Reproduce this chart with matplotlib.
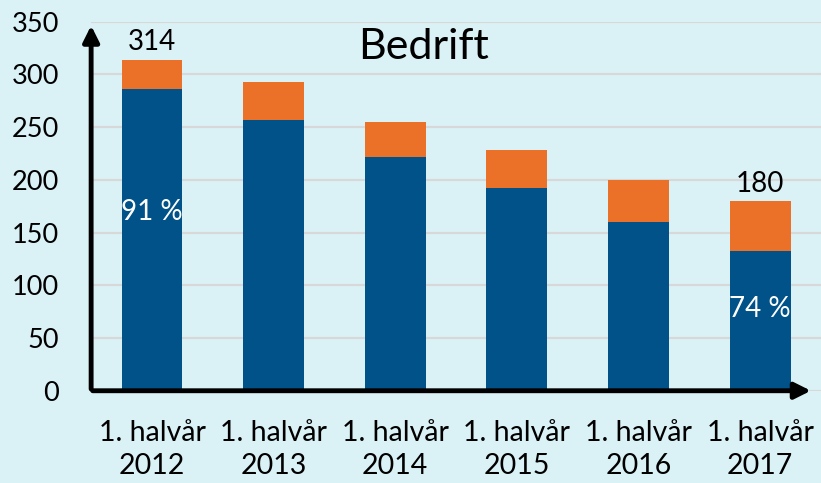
import matplotlib

matplotlib.use("Agg")
import matplotlib.pyplot as plt  # noqa: E402

years = ["2012", "2013", "2014", "2015", "2016", "2017"]
tick_labels = [f"1. halvår\n{y}" for y in years]
blue_vals = [286, 257, 222, 192, 160, 133]
orange_vals = [28, 36, 33, 36, 40, 47]
totals = [b + o for b, o in zip(blue_vals, orange_vals)]
share_labels = {0: "91 %", 5: "74 %"}
share_y = {0: 170, 5: 78}

BG = "#DAF1F6"
BLUE = "#005288"
ORANGE = "#EB7128"

plt.rcParams["font.family"] = ["Lato", "DejaVu Sans"]

fig = plt.figure(figsize=(8.21, 4.83), dpi=100, facecolor=BG)
ax = fig.add_axes([0.111, 0.191, 0.889, 0.764], facecolor=BG)

x = list(range(len(years)))
ax.bar(x, blue_vals, width=0.5, color=BLUE, zorder=2)
ax.bar(x, orange_vals, width=0.5, bottom=blue_vals, color=ORANGE, zorder=2)

ax.set_xlim(-0.5, 5.5)
ax.set_ylim(0, 350)
ax.set_yticks(range(0, 351, 50))
ax.grid(axis="y", color="#D8D8D8", lw=1.5, zorder=0)
ax.set_xticks(x)
ax.set_xticklabels(tick_labels, fontsize=20.5, linespacing=1.36)
ax.tick_params(axis="x", length=0, pad=21)
ax.tick_params(axis="y", length=0, pad=23, labelsize=19.5)
for s in ax.spines.values():
    s.set_visible(False)

# axis arrows
ax.annotate("", xy=(-0.5, 349), xytext=(-0.5, -1),
            arrowprops=dict(arrowstyle="-|>", lw=3.5, color="black", mutation_scale=24),
            annotation_clip=False, zorder=5)
ax.annotate("", xy=(5.44, 0), xytext=(-0.51, 0),
            arrowprops=dict(arrowstyle="-|>", lw=3.5, color="black", mutation_scale=24),
            annotation_clip=False, zorder=5)

# totals on first and last bar
for i in (0, len(years) - 1):
    ax.text(i, totals[i] + 4, str(totals[i]), ha="center", va="bottom", fontsize=20)

for i, lbl in share_labels.items():
    ax.text(i, share_y[i], lbl, ha="center", va="center", fontsize=20, color="white", zorder=3)

fig.text(0.516, 0.878, "Bedrift", ha="center", va="baseline", fontsize=31)

fig.savefig("out.png", dpi=100, facecolor=BG)
